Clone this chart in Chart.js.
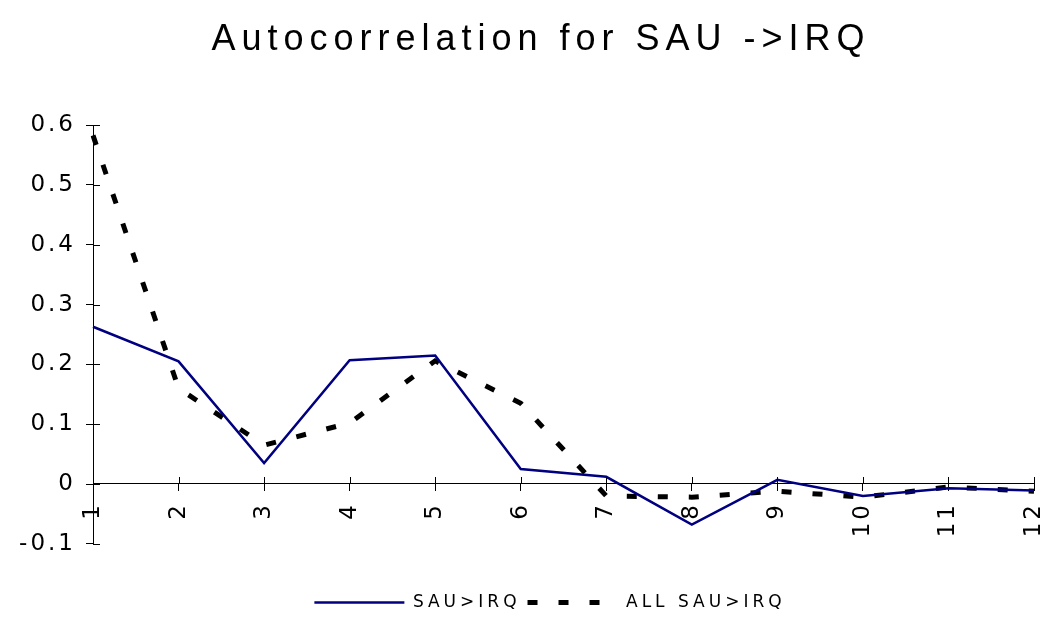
<!DOCTYPE html>
<html>
<head>
<meta charset="utf-8">
<script src="https://cdn.jsdelivr.net/npm/chart.js@4.4.0/dist/chart.umd.min.js"></script>
<style>
  html, body { margin: 0; padding: 0; background: #fff; }
  #wrap { width: 1048px; height: 621px; position: relative; }
</style>
</head>
<body>
<div id="wrap"><canvas id="c"></canvas></div>
<script>
// ---- data ----
const categories = ['1', '2', '3', '4', '5', '6', '7', '8', '9', '10', '11', '12'];
const sauIrq    = [0.263, 0.205, 0.035, 0.207, 0.215, 0.025, 0.012, -0.068, 0.007, -0.020, -0.007, -0.011];
const allSauIrq = [0.583, 0.160, 0.065, 0.102, 0.206, 0.135, -0.020, -0.022, -0.012, -0.022, -0.005, -0.012];
const seriesNames = ['SAU>IRQ', 'ALL SAU>IRQ'];
const titleText = 'Autocorrelation for SAU ->IRQ';
const yMin = -0.1, yMax = 0.6, yStep = 0.1;

// letter spacing by font size (wide-spaced original typography)
const LS = {36: 6, 23: 3, 17: 4};
(function () {
  const P = CanvasRenderingContext2D.prototype;
  const oFill = P.fillText, oMeasure = P.measureText;
  function applyLS(ctx) {
    const m = /(\d+(?:\.\d+)?)px/.exec(ctx.font);
    const s = m ? Math.round(parseFloat(m[1])) : 0;
    ctx.letterSpacing = (LS[s] || 0) + 'px';
  }
  P.fillText = function () { applyLS(this); return oFill.apply(this, arguments); };
  P.measureText = function () { applyLS(this); return oMeasure.apply(this, arguments); };
})();

const SANS = '"Liberation Sans", Arial, sans-serif';
const WIDE = '"DejaVu Sans", Verdana, sans-serif';
Chart.defaults.font.family = SANS;
Chart.defaults.color = '#000';

// ticks that cross the axis lines + title/legend shift
const crossTicks = {
  id: 'crossTicks',
  afterLayout(chart) {
    if (chart.legend) { chart.legend.left += 66; }
    if (chart.titleBlock) { chart.titleBlock.left += 48; }
  },
  afterDraw(chart) {
    const ctx = chart.ctx;
    const xs = chart.scales.x, ys = chart.scales.y;
    const x0 = chart.chartArea.left;
    const y0 = ys.getPixelForValue(0);
    ctx.save();
    ctx.strokeStyle = '#000';
    ctx.lineWidth = 1;
    ctx.beginPath();
    ys.ticks.forEach((t, i) => {
      const py = Math.round(ys.getPixelForTick(i)) + 0.5;
      ctx.moveTo(x0, py); ctx.lineTo(x0 + 7, py);
    });
    xs.ticks.forEach((t, i) => {
      const px = Math.round(xs.getPixelForTick(i)) + 0.5;
      ctx.moveTo(px, y0); ctx.lineTo(px, y0 - 7);
    });
    ctx.stroke();
    ctx.restore();
  }
};

new Chart(document.getElementById('c'), {
  type: 'line',
  data: {
    labels: categories,
    datasets: [
      {
        label: seriesNames[0],
        data: sauIrq,
        borderColor: '#000080',
        backgroundColor: '#000080',
        borderWidth: 2.5,
        pointRadius: 0,
        tension: 0,
        fill: false
      },
      {
        label: seriesNames[1],
        data: allSauIrq,
        borderColor: '#000',
        backgroundColor: '#000',
        borderWidth: 5,
        borderDash: [10, 21],
        pointRadius: 0,
        tension: 0,
        fill: false
      }
    ]
  },
  options: {
    responsive: true,
    maintainAspectRatio: false,
    animation: false,
    layout: { padding: { left: 0, right: 14, top: 0, bottom: 0 } },
    plugins: {
      title: {
        display: true,
        text: titleText,
        color: '#000',
        font: { size: 36, weight: 'normal', family: SANS },
        padding: { top: 18, bottom: 64 }
      },
      legend: {
        position: 'bottom',
        title: { display: true, text: ' ', font: { size: 1 }, padding: { top: 42, bottom: 0 } },
        labels: {
          usePointStyle: true,
          pointStyle: 'line',
          pointStyleWidth: 90,
          boxHeight: 17,
          padding: 7,
          color: '#000',
          font: { size: 17, family: WIDE },
          generateLabels(chart) {
            return chart.data.datasets.map((ds, i) => ({
              text: ds.label,
              datasetIndex: i,
              fillStyle: ds.borderColor,
              strokeStyle: ds.borderColor,
              lineWidth: ds.borderWidth,
              lineDash: ds.borderDash || [],
              lineCap: 'butt',
              pointStyle: 'line',
              fontColor: '#000',
              hidden: false
            }));
          }
        }
      },
      tooltip: { enabled: false }
    },
    scales: {
      x: {
        type: 'category',
        position: { y: 0 },
        offset: false,
        afterFit(scale) { scale.paddingLeft = 0; scale.paddingRight = 0; },
        grid: { drawOnChartArea: false, drawTicks: true, tickLength: 7, color: '#000' },
        border: { display: true, color: '#000', width: 1 },
        ticks: { maxRotation: 90, minRotation: 90, autoSkip: false, padding: 11, font: { size: 23, family: WIDE }, color: '#000' }
      },
      y: {
        min: yMin,
        max: yMax,
        afterFit(scale) { scale.width = 93; scale.paddingTop = 0; scale.paddingBottom = 0; },
        grid: { drawOnChartArea: false, drawTicks: true, tickLength: 7, color: '#000' },
        border: { display: true, color: '#000', width: 1 },
        ticks: {
          stepSize: yStep,
          padding: 10,
          font: { size: 23, family: WIDE },
          color: '#000',
          callback: (v) => String(Math.round(v * 10) / 10)
        }
      }
    }
  },
  plugins: [crossTicks]
});
</script>
</body>
</html>
